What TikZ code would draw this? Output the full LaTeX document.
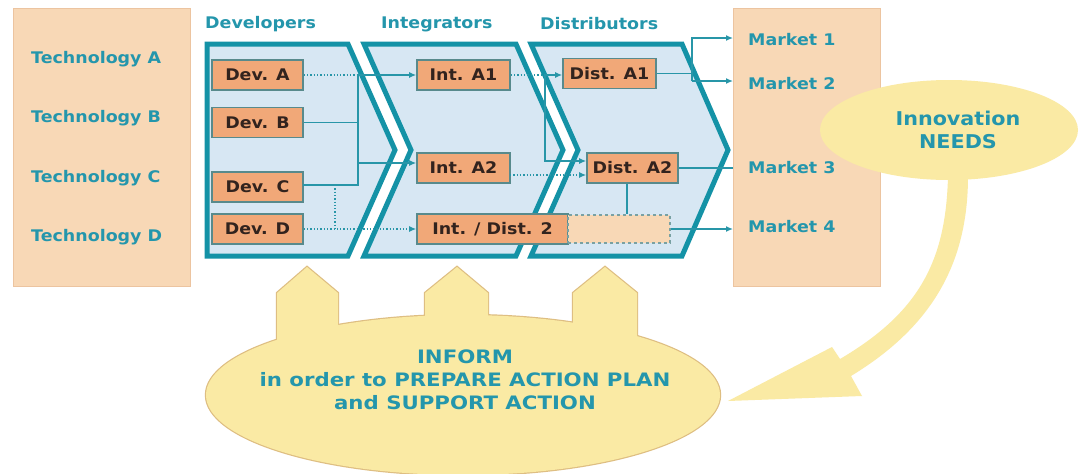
\documentclass[tikz,border=0pt]{standalone}
\usepackage{fontspec}
\setmainfont{DejaVu Sans}
\newfontfamily\lblfont{DejaVu Sans}[FakeStretch=1.09]
\newfontfamily\bigfont{DejaVu Sans}[FakeStretch=1.15]
\usetikzlibrary{arrows.meta,calc}
\definecolor{tealtxt}{RGB}{36,150,172}
\definecolor{chevline}{RGB}{20,146,166}
\definecolor{connline}{RGB}{40,150,168}
\definecolor{chevfill}{RGB}{215,231,243}
\definecolor{peach}{RGB}{248,216,182}
\definecolor{peachline}{RGB}{236,196,160}
\definecolor{orangebox}{RGB}{241,168,120}
\definecolor{boxline}{RGB}{88,138,140}
\definecolor{cloudfill}{RGB}{250,234,164}
\definecolor{cloudline}{RGB}{222,190,130}
\definecolor{boxtext}{RGB}{50,35,30}
\tikzset{
  lbl/.style={text=tealtxt, inner sep=0pt, font=\lblfont\bfseries\fontsize{16}{19}\selectfont},
  orgbox/.style={draw=boxline, line width=1.6pt, fill=orangebox, minimum height=30pt, inner sep=0pt, text=boxtext, font=\lblfont\bfseries\fontsize{16}{19}\selectfont},
  chev/.style={draw=chevline, line width=5pt, fill=chevfill, line join=miter},
  conn/.style={draw=connline, line width=1.3pt},
  dotconn/.style={conn, dotted},
  arr/.style={-{Latex[length=7pt,width=6pt]}},
  panel/.style={fill=peach, draw=peachline, line width=1pt}
}
\begin{document}
\begin{tikzpicture}[x=1pt,y=-1pt]
\useasboundingbox (0,0) rectangle (1080,474);
\fill[white] (0,0) rectangle (1080,474);

% side panels
\path[panel] (13,8) rectangle (190,286);
\path[panel] (733,8) rectangle (880,286);

\node[lbl, anchor=west] (tA) at (31,59) {Technology A};
\node[lbl, anchor=west] (tB) at (31,118) {Technology B};
\node[lbl, anchor=west] (tC) at (31,178) {Technology C};
\node[lbl, anchor=west] (tD) at (31,237) {Technology D};

% innovation needs arrow
\fill[cloudfill] (948,176) .. controls (946,260) and (920,312) .. (840,359)
  -- (832,347) -- (728,401) -- (862,396) -- (851,376)
  .. controls (935,325) and (968,260) .. (968,176) -- cycle;
\fill[cloudfill] (949,130) ellipse [x radius=129pt, y radius=50pt];
\node[lbl, font=\lblfont\bfseries\fontsize{19}{23}\selectfont, align=center] (innov) at (958,130) {Innovation\\NEEDS};

\node[lbl, anchor=west] (m1) at (748,40) {Market 1};
\node[lbl, anchor=west] (m2) at (748,84) {Market 2};
\node[lbl, anchor=west] (m3) at (748,168) {Market 3};
\node[lbl, anchor=west] (m4) at (748,227) {Market 4};

% chevrons
\path[chev] (207,44) -- (348,44) -- (395,150) -- (348,256) -- (207,256) -- cycle;
\path[chev] (364,44) -- (516,44) -- (563,150) -- (516,256) -- (364,256) -- (411,150) -- cycle;
\path[chev] (531,44) -- (682,44) -- (728,150) -- (682,256) -- (531,256) -- (578,150) -- cycle;

\node[lbl, anchor=west] (hDev) at (205,24) {Developers};
\node[lbl, anchor=west] (hInt) at (381,24) {Integrators};
\node[lbl, anchor=west] (hDis) at (540,24) {Distributors};

% boxes
\node[orgbox, minimum width=91pt] (devA) at (257.5,75) {Dev. A};
\node[orgbox, minimum width=91pt] (devB) at (257.5,122.5) {Dev. B};
\node[orgbox, minimum width=91pt] (devC) at (257.5,187) {Dev. C};
\node[orgbox, minimum width=91pt] (devD) at (257.5,229) {Dev. D};
\node[orgbox, minimum width=93pt] (intA1) at (463.5,75) {Int. A1};
\node[orgbox, minimum width=93pt] (intA2) at (463.5,168) {Int. A2};
\node[orgbox, minimum width=151pt] (intD2) at (492.5,229) {Int. / Dist. 2};
\node[draw=boxline!80, dashed, line width=1.4pt, fill=peach, minimum width=102pt, minimum height=28pt, inner sep=0pt] (dash) at (619,229) {};
\node[orgbox, minimum width=93pt] (distA1) at (609.5,73.5) {Dist. A1};
\node[orgbox, minimum width=91pt] (distA2) at (632.5,168) {Dist. A2};

% connectors
\coordinate (busTop) at (358,75);
\coordinate (busMid) at (358,163);
\coordinate (dv) at (335,185);
\coordinate (j2) at (545,75);
\coordinate (j2b) at (545,161);
\coordinate (a2o) at (510,175);
\coordinate (j3) at (692,73.5);
\coordinate (j3t) at (692,38);
\coordinate (j3b) at (692,81);
\coordinate (e1) at (733,38);
\coordinate (e2) at (733,81);
\coordinate (e3) at (733,168);
\coordinate (e4) at (733,229);
\coordinate (cOut) at (303,185);

\draw[dotconn] (devA.east) -- (busTop);
\draw[conn,arr] (busTop) -- (intA1.west);
\draw[conn] (devB.east) -- (devB.east -| busTop);
\draw[conn] (cOut) -- (cOut -| busTop) -- (busTop);
\draw[conn,arr] (busMid) -- (busMid -| intA2.west);
\draw[dotconn] (dv) -- (dv |- devD.east);
\draw[dotconn,arr] (devD.east) -- (intD2.west);

\draw[dotconn] (intA1.east) -- (j2);
\draw[conn,arr] (j2) -- (j2 -| distA1.west);
\draw[conn,arr] (j2) -- (j2b) -- (j2b -| distA2.west);
\draw[dotconn,arr] (a2o) -- (a2o -| distA2.west);

\draw[conn] (distA1.east) -- (j3);
\draw[conn,arr] (j3b) -- (j3t) -- (e1);
\draw[conn,arr] (j3b) -- (e2);
\draw[conn] (distA2.east) -- (e3);
\draw[conn] ([xshift=-5.5pt]distA2.south) -- ([xshift=-5.5pt]distA2.south |- dash.north);
\draw[conn,arr] (dash.east) -- (e4);

% bottom cloud: outlines first, then fills
\begin{scope}[draw=cloudline, line width=2.4pt]
\draw (463,395) ellipse [x radius=257pt, y radius=80pt];
\draw (277,360) -- (277,293) -- (307,267) -- (338,293) -- (338,360) -- cycle;
\draw (425,360) -- (425,293) -- (457,267) -- (488,293) -- (488,360) -- cycle;
\draw (573,360) -- (573,293) -- (605,267) -- (637,293) -- (637,360) -- cycle;
\end{scope}
\begin{scope}[fill=cloudfill]
\fill (463,395) ellipse [x radius=257pt, y radius=80pt];
\fill (277,360) -- (277,293) -- (307,267) -- (338,293) -- (338,360) -- cycle;
\fill (425,360) -- (425,293) -- (457,267) -- (488,293) -- (488,360) -- cycle;
\fill (573,360) -- (573,293) -- (605,267) -- (637,293) -- (637,360) -- cycle;
\end{scope}
\node[lbl, font=\bigfont\bfseries\fontsize{18.5}{23}\selectfont, align=center] (inform) at (465,380) {INFORM\\in order to PREPARE ACTION PLAN\\and SUPPORT ACTION};
\end{tikzpicture}
\end{document}
